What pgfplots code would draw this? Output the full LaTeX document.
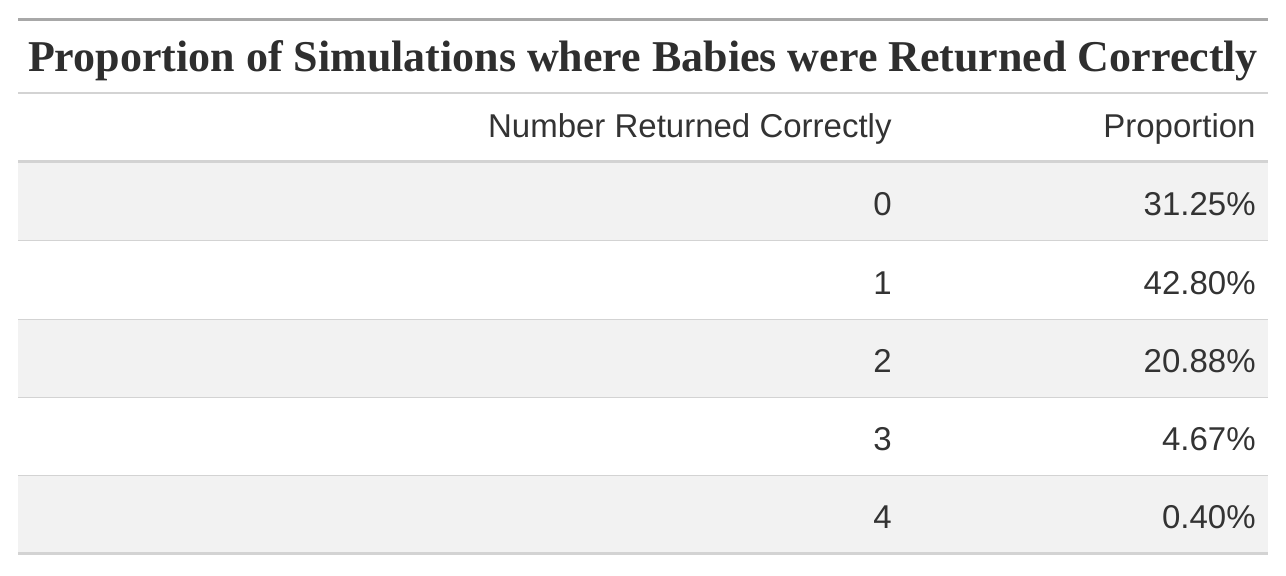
\documentclass[border=0pt]{standalone}
\usepackage{pgfplots}
\pgfplotsset{compat=1.18}
\usepackage{fontspec}
\setmainfont{Liberation Sans}
\newfontfamily\titlefont{Liberation Serif}
\definecolor{txt}{HTML}{333333}
\definecolor{band}{HTML}{F2F2F2}
\definecolor{rule}{HTML}{D3D3D3}
\definecolor{toprule}{HTML}{A8A8A8}
\begin{document}
\begin{tikzpicture}
\begin{axis}[x=0.5pt,y=-0.5pt,xmin=0,xmax=1286,ymin=0,ymax=576,
  axis lines=none, ticks=none, clip=false,
  every node near coord/.append style={inner sep=0pt,text=txt,font=\fontsize{16.5}{19}\selectfont}]
\path[use as bounding box] (axis cs:0,0) rectangle (axis cs:1286,576);
\addplot[fill=band,draw=none] coordinates {(18,162)(1268,162)(1268,241)(18,241)} -- cycle;
\addplot[fill=band,draw=none] coordinates {(18,320)(1268,320)(1268,398)(18,398)} -- cycle;
\addplot[fill=band,draw=none] coordinates {(18,476)(1268,476)(1268,554)(18,554)} -- cycle;
\addplot[toprule,line width=1.5pt] coordinates {(18,20)(1268,20)};
\addplot[rule,line width=1pt] coordinates {(18,93)(1268,93)};
\addplot[rule,line width=1.5pt] coordinates {(18,162)(1268,162)};
\addplot[rule,line width=0.5pt] coordinates {(18,241)(1268,241)};
\addplot[rule,line width=0.5pt] coordinates {(18,320)(1268,320)};
\addplot[rule,line width=0.5pt] coordinates {(18,398)(1268,398)};
\addplot[rule,line width=0.5pt] coordinates {(18,476)(1268,476)};
\addplot[rule,line width=1.5pt] coordinates {(18,554)(1268,554)};
\addplot[draw=none,nodes near coords,point meta=explicit symbolic,
  every node near coord/.append style={anchor=center,text=txt!90!black,font=\titlefont\bfseries\fontsize{22}{26}\selectfont}]
  table[meta=m] {x y m
643 61 {Proportion of Simulations where Babies were Returned Correctly}
};
\addplot[draw=none,nodes near coords,point meta=explicit symbolic,
  every node near coord/.append style={anchor=east}]
  table[meta=m] {x y m
892 129 {Number Returned Correctly}
1256 129 {Proportion}
892 204 0
1256 204 {31.25\%}
892 283 1
1256 283 {42.80\%}
892 361 2
1256 361 {20.88\%}
892 439 3
1256 439 {4.67\%}
892 517 4
1256 517 {0.40\%}
};
\end{axis}
\end{tikzpicture}
\end{document}
